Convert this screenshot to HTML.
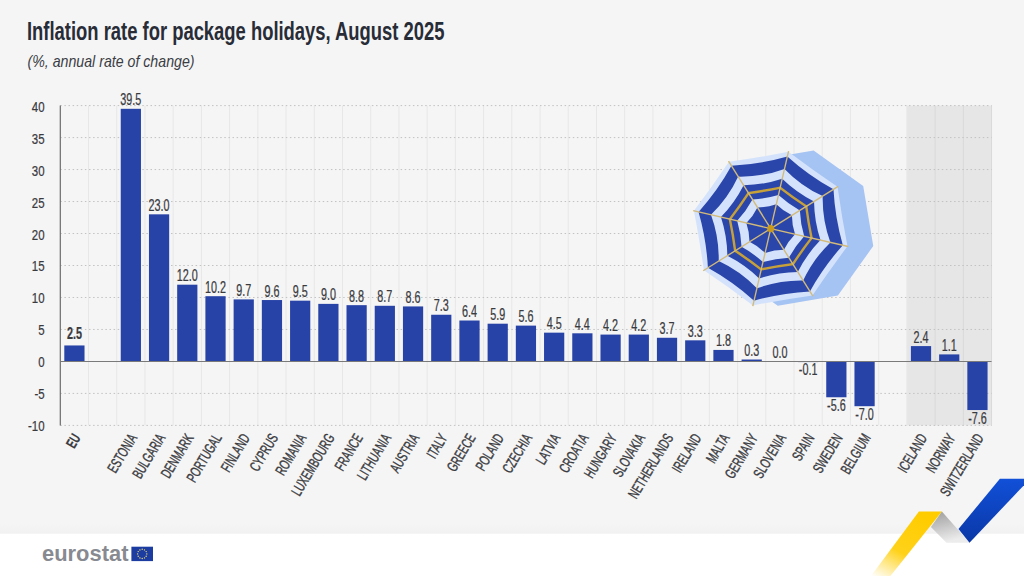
<!DOCTYPE html><html><head><meta charset="utf-8"><style>html,body{margin:0;padding:0;background:#f5f5f5;}body{width:1024px;height:576px;overflow:hidden;position:relative;font-family:"Liberation Sans",sans-serif;}svg{position:absolute;left:0;top:0;}</style></head><body>
<svg width="1024" height="576" viewBox="0 0 1024 576" font-family="Liberation Sans, sans-serif">
<rect x="0" y="0" width="1024" height="576" fill="#f5f5f5"/>
<defs><linearGradient id="gf" x1="0" y1="0" x2="0" y2="1"><stop offset="0" stop-color="#f5f5f5"/><stop offset="1" stop-color="#f1f1f1"/></linearGradient></defs>
<rect x="0" y="524" width="1024" height="10" fill="url(#gf)"/>
<rect x="0" y="533.7" width="1024" height="43" fill="#ffffff"/>
<text x="27" y="40.2" font-size="25" font-weight="bold" fill="#282c37" textLength="417.5" lengthAdjust="spacingAndGlyphs">Inflation rate for package holidays, August 2025</text>
<text x="27.5" y="67.4" font-size="16.2" font-style="italic" fill="#3a3d44" textLength="167" lengthAdjust="spacingAndGlyphs">(%, annual rate of change)</text>
<rect x="906.90" y="105.60" width="84.66" height="319.80" fill="#e6e6e6"/>
<line x1="88.52" y1="105.60" x2="88.52" y2="425.40" stroke="#e7e7e7" stroke-width="1"/>
<line x1="116.74" y1="105.60" x2="116.74" y2="425.40" stroke="#e7e7e7" stroke-width="1"/>
<line x1="144.96" y1="105.60" x2="144.96" y2="425.40" stroke="#e7e7e7" stroke-width="1"/>
<line x1="173.18" y1="105.60" x2="173.18" y2="425.40" stroke="#e7e7e7" stroke-width="1"/>
<line x1="201.40" y1="105.60" x2="201.40" y2="425.40" stroke="#e7e7e7" stroke-width="1"/>
<line x1="229.62" y1="105.60" x2="229.62" y2="425.40" stroke="#e7e7e7" stroke-width="1"/>
<line x1="257.84" y1="105.60" x2="257.84" y2="425.40" stroke="#e7e7e7" stroke-width="1"/>
<line x1="286.06" y1="105.60" x2="286.06" y2="425.40" stroke="#e7e7e7" stroke-width="1"/>
<line x1="314.28" y1="105.60" x2="314.28" y2="425.40" stroke="#e7e7e7" stroke-width="1"/>
<line x1="342.50" y1="105.60" x2="342.50" y2="425.40" stroke="#e7e7e7" stroke-width="1"/>
<line x1="370.72" y1="105.60" x2="370.72" y2="425.40" stroke="#e7e7e7" stroke-width="1"/>
<line x1="398.94" y1="105.60" x2="398.94" y2="425.40" stroke="#e7e7e7" stroke-width="1"/>
<line x1="427.16" y1="105.60" x2="427.16" y2="425.40" stroke="#e7e7e7" stroke-width="1"/>
<line x1="455.38" y1="105.60" x2="455.38" y2="425.40" stroke="#e7e7e7" stroke-width="1"/>
<line x1="483.60" y1="105.60" x2="483.60" y2="425.40" stroke="#e7e7e7" stroke-width="1"/>
<line x1="511.82" y1="105.60" x2="511.82" y2="425.40" stroke="#e7e7e7" stroke-width="1"/>
<line x1="540.04" y1="105.60" x2="540.04" y2="425.40" stroke="#e7e7e7" stroke-width="1"/>
<line x1="568.26" y1="105.60" x2="568.26" y2="425.40" stroke="#e7e7e7" stroke-width="1"/>
<line x1="596.48" y1="105.60" x2="596.48" y2="425.40" stroke="#e7e7e7" stroke-width="1"/>
<line x1="624.70" y1="105.60" x2="624.70" y2="425.40" stroke="#e7e7e7" stroke-width="1"/>
<line x1="652.92" y1="105.60" x2="652.92" y2="425.40" stroke="#e7e7e7" stroke-width="1"/>
<line x1="681.14" y1="105.60" x2="681.14" y2="425.40" stroke="#e7e7e7" stroke-width="1"/>
<line x1="709.36" y1="105.60" x2="709.36" y2="425.40" stroke="#e7e7e7" stroke-width="1"/>
<line x1="737.58" y1="105.60" x2="737.58" y2="425.40" stroke="#e7e7e7" stroke-width="1"/>
<line x1="765.80" y1="105.60" x2="765.80" y2="425.40" stroke="#e7e7e7" stroke-width="1"/>
<line x1="794.02" y1="105.60" x2="794.02" y2="425.40" stroke="#e7e7e7" stroke-width="1"/>
<line x1="822.24" y1="105.60" x2="822.24" y2="425.40" stroke="#e7e7e7" stroke-width="1"/>
<line x1="850.46" y1="105.60" x2="850.46" y2="425.40" stroke="#e7e7e7" stroke-width="1"/>
<line x1="878.68" y1="105.60" x2="878.68" y2="425.40" stroke="#e7e7e7" stroke-width="1"/>
<line x1="906.90" y1="105.60" x2="906.90" y2="425.40" stroke="#e7e7e7" stroke-width="1"/>
<line x1="935.12" y1="105.60" x2="935.12" y2="425.40" stroke="#d9d9d9" stroke-width="1"/>
<line x1="963.34" y1="105.60" x2="963.34" y2="425.40" stroke="#d9d9d9" stroke-width="1"/>
<line x1="991.56" y1="105.60" x2="991.56" y2="425.40" stroke="#d9d9d9" stroke-width="1"/>
<line x1="60.30" y1="425.40" x2="991.56" y2="425.40" stroke="#c2c2c2" stroke-width="1" stroke-dasharray="1.5 2.6"/>
<line x1="60.30" y1="393.42" x2="991.56" y2="393.42" stroke="#c2c2c2" stroke-width="1" stroke-dasharray="1.5 2.6"/>
<line x1="60.30" y1="329.46" x2="991.56" y2="329.46" stroke="#c2c2c2" stroke-width="1" stroke-dasharray="1.5 2.6"/>
<line x1="60.30" y1="297.48" x2="991.56" y2="297.48" stroke="#c2c2c2" stroke-width="1" stroke-dasharray="1.5 2.6"/>
<line x1="60.30" y1="265.50" x2="991.56" y2="265.50" stroke="#c2c2c2" stroke-width="1" stroke-dasharray="1.5 2.6"/>
<line x1="60.30" y1="233.52" x2="991.56" y2="233.52" stroke="#c2c2c2" stroke-width="1" stroke-dasharray="1.5 2.6"/>
<line x1="60.30" y1="201.54" x2="991.56" y2="201.54" stroke="#c2c2c2" stroke-width="1" stroke-dasharray="1.5 2.6"/>
<line x1="60.30" y1="169.56" x2="991.56" y2="169.56" stroke="#c2c2c2" stroke-width="1" stroke-dasharray="1.5 2.6"/>
<line x1="60.30" y1="137.58" x2="991.56" y2="137.58" stroke="#c2c2c2" stroke-width="1" stroke-dasharray="1.5 2.6"/>
<line x1="60.30" y1="105.60" x2="991.56" y2="105.60" stroke="#c2c2c2" stroke-width="1" stroke-dasharray="1.5 2.6"/>
<text x="44.6" y="431.40" font-size="15.5" fill="#3a3b3f" text-anchor="end" stroke="#3a3b3f" stroke-width="0.25" transform="translate(44.6 0) scale(0.74 1) translate(-44.6 0)">-10</text>
<text x="44.6" y="399.42" font-size="15.5" fill="#3a3b3f" text-anchor="end" stroke="#3a3b3f" stroke-width="0.25" transform="translate(44.6 0) scale(0.74 1) translate(-44.6 0)">-5</text>
<text x="44.6" y="367.44" font-size="15.5" fill="#3a3b3f" text-anchor="end" stroke="#3a3b3f" stroke-width="0.25" transform="translate(44.6 0) scale(0.74 1) translate(-44.6 0)">0</text>
<text x="44.6" y="335.46" font-size="15.5" fill="#3a3b3f" text-anchor="end" stroke="#3a3b3f" stroke-width="0.25" transform="translate(44.6 0) scale(0.74 1) translate(-44.6 0)">5</text>
<text x="44.6" y="303.48" font-size="15.5" fill="#3a3b3f" text-anchor="end" stroke="#3a3b3f" stroke-width="0.25" transform="translate(44.6 0) scale(0.74 1) translate(-44.6 0)">10</text>
<text x="44.6" y="271.50" font-size="15.5" fill="#3a3b3f" text-anchor="end" stroke="#3a3b3f" stroke-width="0.25" transform="translate(44.6 0) scale(0.74 1) translate(-44.6 0)">15</text>
<text x="44.6" y="239.52" font-size="15.5" fill="#3a3b3f" text-anchor="end" stroke="#3a3b3f" stroke-width="0.25" transform="translate(44.6 0) scale(0.74 1) translate(-44.6 0)">20</text>
<text x="44.6" y="207.54" font-size="15.5" fill="#3a3b3f" text-anchor="end" stroke="#3a3b3f" stroke-width="0.25" transform="translate(44.6 0) scale(0.74 1) translate(-44.6 0)">25</text>
<text x="44.6" y="175.56" font-size="15.5" fill="#3a3b3f" text-anchor="end" stroke="#3a3b3f" stroke-width="0.25" transform="translate(44.6 0) scale(0.74 1) translate(-44.6 0)">30</text>
<text x="44.6" y="143.58" font-size="15.5" fill="#3a3b3f" text-anchor="end" stroke="#3a3b3f" stroke-width="0.25" transform="translate(44.6 0) scale(0.74 1) translate(-44.6 0)">35</text>
<text x="44.6" y="111.60" font-size="15.5" fill="#3a3b3f" text-anchor="end" stroke="#3a3b3f" stroke-width="0.25" transform="translate(44.6 0) scale(0.74 1) translate(-44.6 0)">40</text>
<rect x="64.30" y="345.45" width="20.22" height="15.99" fill="#2843a7"/>
<text x="74.41" y="338.95" font-size="16" fill="#3a3b3f" stroke="#3a3b3f" stroke-width="0.25" text-anchor="middle" font-weight="bold" transform="translate(74.41 0) scale(0.675 1) translate(-74.41 0)">2.5</text>
<rect x="120.74" y="108.80" width="20.22" height="252.64" fill="#2843a7"/>
<text x="130.85" y="105.30" font-size="16" fill="#3a3b3f" stroke="#3a3b3f" stroke-width="0.25" text-anchor="middle" transform="translate(130.85 0) scale(0.675 1) translate(-130.85 0)">39.5</text>
<rect x="148.96" y="214.33" width="20.22" height="147.11" fill="#2843a7"/>
<text x="159.07" y="210.83" font-size="16" fill="#3a3b3f" stroke="#3a3b3f" stroke-width="0.25" text-anchor="middle" transform="translate(159.07 0) scale(0.675 1) translate(-159.07 0)">23.0</text>
<rect x="177.18" y="284.69" width="20.22" height="76.75" fill="#2843a7"/>
<text x="187.29" y="281.19" font-size="16" fill="#3a3b3f" stroke="#3a3b3f" stroke-width="0.25" text-anchor="middle" transform="translate(187.29 0) scale(0.675 1) translate(-187.29 0)">12.0</text>
<rect x="205.40" y="296.20" width="20.22" height="65.24" fill="#2843a7"/>
<text x="215.51" y="292.70" font-size="16" fill="#3a3b3f" stroke="#3a3b3f" stroke-width="0.25" text-anchor="middle" transform="translate(215.51 0) scale(0.675 1) translate(-215.51 0)">10.2</text>
<rect x="233.62" y="299.40" width="20.22" height="62.04" fill="#2843a7"/>
<text x="243.73" y="295.90" font-size="16" fill="#3a3b3f" stroke="#3a3b3f" stroke-width="0.25" text-anchor="middle" transform="translate(243.73 0) scale(0.675 1) translate(-243.73 0)">9.7</text>
<rect x="261.84" y="300.04" width="20.22" height="61.40" fill="#2843a7"/>
<text x="271.95" y="296.54" font-size="16" fill="#3a3b3f" stroke="#3a3b3f" stroke-width="0.25" text-anchor="middle" transform="translate(271.95 0) scale(0.675 1) translate(-271.95 0)">9.6</text>
<rect x="290.06" y="300.68" width="20.22" height="60.76" fill="#2843a7"/>
<text x="300.17" y="297.18" font-size="16" fill="#3a3b3f" stroke="#3a3b3f" stroke-width="0.25" text-anchor="middle" transform="translate(300.17 0) scale(0.675 1) translate(-300.17 0)">9.5</text>
<rect x="318.28" y="303.88" width="20.22" height="57.56" fill="#2843a7"/>
<text x="328.39" y="300.38" font-size="16" fill="#3a3b3f" stroke="#3a3b3f" stroke-width="0.25" text-anchor="middle" transform="translate(328.39 0) scale(0.675 1) translate(-328.39 0)">9.0</text>
<rect x="346.50" y="305.16" width="20.22" height="56.28" fill="#2843a7"/>
<text x="356.61" y="301.66" font-size="16" fill="#3a3b3f" stroke="#3a3b3f" stroke-width="0.25" text-anchor="middle" transform="translate(356.61 0) scale(0.675 1) translate(-356.61 0)">8.8</text>
<rect x="374.72" y="305.79" width="20.22" height="55.65" fill="#2843a7"/>
<text x="384.83" y="302.29" font-size="16" fill="#3a3b3f" stroke="#3a3b3f" stroke-width="0.25" text-anchor="middle" transform="translate(384.83 0) scale(0.675 1) translate(-384.83 0)">8.7</text>
<rect x="402.94" y="306.43" width="20.22" height="55.01" fill="#2843a7"/>
<text x="413.05" y="302.93" font-size="16" fill="#3a3b3f" stroke="#3a3b3f" stroke-width="0.25" text-anchor="middle" transform="translate(413.05 0) scale(0.675 1) translate(-413.05 0)">8.6</text>
<rect x="431.16" y="314.75" width="20.22" height="46.69" fill="#2843a7"/>
<text x="441.27" y="311.25" font-size="16" fill="#3a3b3f" stroke="#3a3b3f" stroke-width="0.25" text-anchor="middle" transform="translate(441.27 0) scale(0.675 1) translate(-441.27 0)">7.3</text>
<rect x="459.38" y="320.51" width="20.22" height="40.93" fill="#2843a7"/>
<text x="469.49" y="317.01" font-size="16" fill="#3a3b3f" stroke="#3a3b3f" stroke-width="0.25" text-anchor="middle" transform="translate(469.49 0) scale(0.675 1) translate(-469.49 0)">6.4</text>
<rect x="487.60" y="323.70" width="20.22" height="37.74" fill="#2843a7"/>
<text x="497.71" y="320.20" font-size="16" fill="#3a3b3f" stroke="#3a3b3f" stroke-width="0.25" text-anchor="middle" transform="translate(497.71 0) scale(0.675 1) translate(-497.71 0)">5.9</text>
<rect x="515.82" y="325.62" width="20.22" height="35.82" fill="#2843a7"/>
<text x="525.93" y="322.12" font-size="16" fill="#3a3b3f" stroke="#3a3b3f" stroke-width="0.25" text-anchor="middle" transform="translate(525.93 0) scale(0.675 1) translate(-525.93 0)">5.6</text>
<rect x="544.04" y="332.66" width="20.22" height="28.78" fill="#2843a7"/>
<text x="554.15" y="329.16" font-size="16" fill="#3a3b3f" stroke="#3a3b3f" stroke-width="0.25" text-anchor="middle" transform="translate(554.15 0) scale(0.675 1) translate(-554.15 0)">4.5</text>
<rect x="572.26" y="333.30" width="20.22" height="28.14" fill="#2843a7"/>
<text x="582.37" y="329.80" font-size="16" fill="#3a3b3f" stroke="#3a3b3f" stroke-width="0.25" text-anchor="middle" transform="translate(582.37 0) scale(0.675 1) translate(-582.37 0)">4.4</text>
<rect x="600.48" y="334.58" width="20.22" height="26.86" fill="#2843a7"/>
<text x="610.59" y="331.08" font-size="16" fill="#3a3b3f" stroke="#3a3b3f" stroke-width="0.25" text-anchor="middle" transform="translate(610.59 0) scale(0.675 1) translate(-610.59 0)">4.2</text>
<rect x="628.70" y="334.58" width="20.22" height="26.86" fill="#2843a7"/>
<text x="638.81" y="331.08" font-size="16" fill="#3a3b3f" stroke="#3a3b3f" stroke-width="0.25" text-anchor="middle" transform="translate(638.81 0) scale(0.675 1) translate(-638.81 0)">4.2</text>
<rect x="656.92" y="337.77" width="20.22" height="23.67" fill="#2843a7"/>
<text x="667.03" y="334.27" font-size="16" fill="#3a3b3f" stroke="#3a3b3f" stroke-width="0.25" text-anchor="middle" transform="translate(667.03 0) scale(0.675 1) translate(-667.03 0)">3.7</text>
<rect x="685.14" y="340.33" width="20.22" height="21.11" fill="#2843a7"/>
<text x="695.25" y="336.83" font-size="16" fill="#3a3b3f" stroke="#3a3b3f" stroke-width="0.25" text-anchor="middle" transform="translate(695.25 0) scale(0.675 1) translate(-695.25 0)">3.3</text>
<rect x="713.36" y="349.93" width="20.22" height="11.51" fill="#2843a7"/>
<text x="723.47" y="346.43" font-size="16" fill="#3a3b3f" stroke="#3a3b3f" stroke-width="0.25" text-anchor="middle" transform="translate(723.47 0) scale(0.675 1) translate(-723.47 0)">1.8</text>
<rect x="741.58" y="359.52" width="20.22" height="1.92" fill="#2843a7"/>
<text x="751.69" y="356.02" font-size="16" fill="#3a3b3f" stroke="#3a3b3f" stroke-width="0.25" text-anchor="middle" transform="translate(751.69 0) scale(0.675 1) translate(-751.69 0)">0.3</text>
<text x="779.91" y="357.94" font-size="16" fill="#3a3b3f" stroke="#3a3b3f" stroke-width="0.25" text-anchor="middle" transform="translate(779.91 0) scale(0.675 1) translate(-779.91 0)">0.0</text>
<rect x="798.02" y="361.44" width="20.22" height="0.64" fill="#2843a7"/>
<text x="808.13" y="374.68" font-size="16" fill="#3a3b3f" stroke="#3a3b3f" stroke-width="0.25" text-anchor="middle" transform="translate(808.13 0) scale(0.675 1) translate(-808.13 0)">-0.1</text>
<rect x="826.24" y="361.44" width="20.22" height="35.82" fill="#2843a7"/>
<text x="836.35" y="410.86" font-size="16" fill="#3a3b3f" stroke="#3a3b3f" stroke-width="0.25" text-anchor="middle" transform="translate(836.35 0) scale(0.675 1) translate(-836.35 0)">-5.6</text>
<rect x="854.46" y="361.44" width="20.22" height="44.77" fill="#2843a7"/>
<text x="864.57" y="419.81" font-size="16" fill="#3a3b3f" stroke="#3a3b3f" stroke-width="0.25" text-anchor="middle" transform="translate(864.57 0) scale(0.675 1) translate(-864.57 0)">-7.0</text>
<rect x="910.90" y="346.09" width="20.22" height="15.35" fill="#2843a7"/>
<text x="921.01" y="342.59" font-size="16" fill="#3a3b3f" stroke="#3a3b3f" stroke-width="0.25" text-anchor="middle" transform="translate(921.01 0) scale(0.675 1) translate(-921.01 0)">2.4</text>
<rect x="939.12" y="354.40" width="20.22" height="7.04" fill="#2843a7"/>
<text x="949.23" y="350.90" font-size="16" fill="#3a3b3f" stroke="#3a3b3f" stroke-width="0.25" text-anchor="middle" transform="translate(949.23 0) scale(0.675 1) translate(-949.23 0)">1.1</text>
<rect x="967.34" y="361.44" width="20.22" height="48.61" fill="#2843a7"/>
<text x="977.45" y="423.65" font-size="16" fill="#3a3b3f" stroke="#3a3b3f" stroke-width="0.25" text-anchor="middle" transform="translate(977.45 0) scale(0.675 1) translate(-977.45 0)">-7.6</text>
<line x1="60.30" y1="105.60" x2="60.30" y2="425.40" stroke="#6b6b6b" stroke-width="1.2"/>
<line x1="60.30" y1="361.5" x2="991.56" y2="361.5" stroke="#7a7a7a" stroke-width="1"/>
<g transform="translate(81.11 437.60) rotate(-59) scale(0.65 1)"><text x="0" y="0" font-size="15" fill="#3a3b3f" stroke="#3a3b3f" stroke-width="0.2" text-anchor="end" font-weight="bold">EU</text></g>
<g transform="translate(137.55 437.60) rotate(-59) scale(0.65 1)"><text x="0" y="0" font-size="15" fill="#3a3b3f" stroke="#3a3b3f" stroke-width="0.4" text-anchor="end">ESTONIA</text></g>
<g transform="translate(165.77 437.60) rotate(-59) scale(0.65 1)"><text x="0" y="0" font-size="15" fill="#3a3b3f" stroke="#3a3b3f" stroke-width="0.4" text-anchor="end">BULGARIA</text></g>
<g transform="translate(193.99 437.60) rotate(-59) scale(0.65 1)"><text x="0" y="0" font-size="15" fill="#3a3b3f" stroke="#3a3b3f" stroke-width="0.4" text-anchor="end">DENMARK</text></g>
<g transform="translate(222.21 437.60) rotate(-59) scale(0.65 1)"><text x="0" y="0" font-size="15" fill="#3a3b3f" stroke="#3a3b3f" stroke-width="0.4" text-anchor="end">PORTUGAL</text></g>
<g transform="translate(250.43 437.60) rotate(-59) scale(0.65 1)"><text x="0" y="0" font-size="15" fill="#3a3b3f" stroke="#3a3b3f" stroke-width="0.4" text-anchor="end">FINLAND</text></g>
<g transform="translate(278.65 437.60) rotate(-59) scale(0.65 1)"><text x="0" y="0" font-size="15" fill="#3a3b3f" stroke="#3a3b3f" stroke-width="0.4" text-anchor="end">CYPRUS</text></g>
<g transform="translate(306.87 437.60) rotate(-59) scale(0.65 1)"><text x="0" y="0" font-size="15" fill="#3a3b3f" stroke="#3a3b3f" stroke-width="0.4" text-anchor="end">ROMANIA</text></g>
<g transform="translate(335.09 437.60) rotate(-59) scale(0.65 1)"><text x="0" y="0" font-size="15" fill="#3a3b3f" stroke="#3a3b3f" stroke-width="0.4" text-anchor="end">LUXEMBOURG</text></g>
<g transform="translate(363.31 437.60) rotate(-59) scale(0.65 1)"><text x="0" y="0" font-size="15" fill="#3a3b3f" stroke="#3a3b3f" stroke-width="0.4" text-anchor="end">FRANCE</text></g>
<g transform="translate(391.53 437.60) rotate(-59) scale(0.65 1)"><text x="0" y="0" font-size="15" fill="#3a3b3f" stroke="#3a3b3f" stroke-width="0.4" text-anchor="end">LITHUANIA</text></g>
<g transform="translate(419.75 437.60) rotate(-59) scale(0.65 1)"><text x="0" y="0" font-size="15" fill="#3a3b3f" stroke="#3a3b3f" stroke-width="0.4" text-anchor="end">AUSTRIA</text></g>
<g transform="translate(447.97 437.60) rotate(-59) scale(0.65 1)"><text x="0" y="0" font-size="15" fill="#3a3b3f" stroke="#3a3b3f" stroke-width="0.4" text-anchor="end">ITALY</text></g>
<g transform="translate(476.19 437.60) rotate(-59) scale(0.65 1)"><text x="0" y="0" font-size="15" fill="#3a3b3f" stroke="#3a3b3f" stroke-width="0.4" text-anchor="end">GREECE</text></g>
<g transform="translate(504.41 437.60) rotate(-59) scale(0.65 1)"><text x="0" y="0" font-size="15" fill="#3a3b3f" stroke="#3a3b3f" stroke-width="0.4" text-anchor="end">POLAND</text></g>
<g transform="translate(532.63 437.60) rotate(-59) scale(0.65 1)"><text x="0" y="0" font-size="15" fill="#3a3b3f" stroke="#3a3b3f" stroke-width="0.4" text-anchor="end">CZECHIA</text></g>
<g transform="translate(560.85 437.60) rotate(-59) scale(0.65 1)"><text x="0" y="0" font-size="15" fill="#3a3b3f" stroke="#3a3b3f" stroke-width="0.4" text-anchor="end">LATVIA</text></g>
<g transform="translate(589.07 437.60) rotate(-59) scale(0.65 1)"><text x="0" y="0" font-size="15" fill="#3a3b3f" stroke="#3a3b3f" stroke-width="0.4" text-anchor="end">CROATIA</text></g>
<g transform="translate(617.29 437.60) rotate(-59) scale(0.65 1)"><text x="0" y="0" font-size="15" fill="#3a3b3f" stroke="#3a3b3f" stroke-width="0.4" text-anchor="end">HUNGARY</text></g>
<g transform="translate(645.51 437.60) rotate(-59) scale(0.65 1)"><text x="0" y="0" font-size="15" fill="#3a3b3f" stroke="#3a3b3f" stroke-width="0.4" text-anchor="end">SLOVAKIA</text></g>
<g transform="translate(673.73 437.60) rotate(-59) scale(0.65 1)"><text x="0" y="0" font-size="15" fill="#3a3b3f" stroke="#3a3b3f" stroke-width="0.4" text-anchor="end">NETHERLANDS</text></g>
<g transform="translate(701.95 437.60) rotate(-59) scale(0.65 1)"><text x="0" y="0" font-size="15" fill="#3a3b3f" stroke="#3a3b3f" stroke-width="0.4" text-anchor="end">IRELAND</text></g>
<g transform="translate(730.17 437.60) rotate(-59) scale(0.65 1)"><text x="0" y="0" font-size="15" fill="#3a3b3f" stroke="#3a3b3f" stroke-width="0.4" text-anchor="end">MALTA</text></g>
<g transform="translate(758.39 437.60) rotate(-59) scale(0.65 1)"><text x="0" y="0" font-size="15" fill="#3a3b3f" stroke="#3a3b3f" stroke-width="0.4" text-anchor="end">GERMANY</text></g>
<g transform="translate(786.61 437.60) rotate(-59) scale(0.65 1)"><text x="0" y="0" font-size="15" fill="#3a3b3f" stroke="#3a3b3f" stroke-width="0.4" text-anchor="end">SLOVENIA</text></g>
<g transform="translate(814.83 437.60) rotate(-59) scale(0.65 1)"><text x="0" y="0" font-size="15" fill="#3a3b3f" stroke="#3a3b3f" stroke-width="0.4" text-anchor="end">SPAIN</text></g>
<g transform="translate(843.05 437.60) rotate(-59) scale(0.65 1)"><text x="0" y="0" font-size="15" fill="#3a3b3f" stroke="#3a3b3f" stroke-width="0.4" text-anchor="end">SWEDEN</text></g>
<g transform="translate(871.27 437.60) rotate(-59) scale(0.65 1)"><text x="0" y="0" font-size="15" fill="#3a3b3f" stroke="#3a3b3f" stroke-width="0.4" text-anchor="end">BELGIUM</text></g>
<g transform="translate(927.71 437.60) rotate(-59) scale(0.65 1)"><text x="0" y="0" font-size="15" fill="#3a3b3f" stroke="#3a3b3f" stroke-width="0.4" text-anchor="end">ICELAND</text></g>
<g transform="translate(955.93 437.60) rotate(-59) scale(0.65 1)"><text x="0" y="0" font-size="15" fill="#3a3b3f" stroke="#3a3b3f" stroke-width="0.4" text-anchor="end">NORWAY</text></g>
<g transform="translate(984.15 437.60) rotate(-59) scale(0.65 1)"><text x="0" y="0" font-size="15" fill="#3a3b3f" stroke="#3a3b3f" stroke-width="0.4" text-anchor="end">SWITZERLAND</text></g>
<polygon points="813.61,150.54 863.20,185.92 873.26,246.01 837.88,295.60 777.79,305.66 728.20,270.28 718.14,210.19 753.52,160.60" fill="#a5c3f3"/>
<path d="M788.43,151.82 Q812.51,169.98 837.53,186.84 Q841.72,216.72 847.48,246.33 Q829.32,270.41 812.46,295.43 Q782.58,299.62 752.97,305.38 Q728.89,287.22 703.87,270.36 Q699.68,240.48 693.92,210.87 Q712.08,186.79 728.94,161.77 Q758.82,157.58 788.43,151.82Z" fill="#d4e3fb"/>
<path d="M787.35,156.47 Q808.56,175.53 833.48,189.37 Q835.00,217.84 842.83,245.25 Q823.77,266.46 809.93,291.38 Q781.46,292.90 754.05,300.73 Q732.84,281.67 707.92,267.83 Q706.40,239.36 698.57,211.95 Q717.63,190.74 731.47,165.82 Q759.94,164.30 787.35,156.47Z" fill="#2b46ab"/>
<path d="M784.49,168.88 Q801.03,186.08 822.68,196.12 Q822.21,219.98 830.42,242.39 Q813.22,258.93 803.18,280.58 Q779.32,280.11 756.91,288.32 Q740.37,271.12 718.72,261.08 Q719.19,237.22 710.98,214.81 Q728.18,198.27 738.22,176.62 Q762.08,177.09 784.49,168.88Z" fill="#d4e3fb"/>
<path d="M782.20,178.81 Q796.37,192.61 814.04,201.52 Q814.31,221.30 820.49,240.10 Q806.69,254.27 797.78,271.94 Q778.00,272.21 759.20,278.39 Q745.03,264.59 727.36,255.68 Q727.09,235.90 720.91,217.10 Q734.71,202.93 743.62,185.26 Q763.40,184.99 782.20,178.81Z" fill="#2b46ab"/>
<path d="M780.42,186.48 Q793.54,196.58 807.36,205.70 Q809.49,222.11 812.82,238.32 Q802.72,251.44 793.60,265.26 Q777.19,267.39 760.98,270.72 Q747.86,260.62 734.04,251.50 Q731.91,235.09 728.58,218.88 Q738.68,205.76 747.80,191.94 Q764.21,189.81 780.42,186.48Z" fill="#c6a038"/>
<path d="M779.83,189.04 Q792.13,198.55 805.13,207.09 Q807.10,222.51 810.26,237.73 Q800.75,250.03 792.21,263.03 Q776.79,265.00 761.57,268.16 Q749.27,258.65 736.27,250.11 Q734.30,234.69 731.14,219.47 Q740.65,207.17 749.19,194.17 Q764.61,192.20 779.83,189.04Z" fill="#2b46ab"/>
<path d="M778.44,195.09 Q788.22,204.04 799.86,210.38 Q800.46,223.62 804.21,236.34 Q795.26,246.12 788.92,257.76 Q775.68,258.36 762.96,262.11 Q753.18,253.16 741.54,246.82 Q740.94,233.58 737.19,220.86 Q746.14,211.08 752.48,199.44 Q765.72,198.84 778.44,195.09Z" fill="#d4e3fb"/>
<path d="M776.32,204.25 Q783.18,211.10 791.90,215.35 Q791.90,225.05 795.05,234.22 Q788.20,241.08 783.95,249.80 Q774.25,249.80 765.08,252.95 Q758.22,246.10 749.50,241.85 Q749.50,232.15 746.35,222.98 Q753.20,216.12 757.45,207.40 Q767.15,207.40 776.32,204.25Z" fill="#2b46ab"/>
<line x1="770.70" y1="228.60" x2="788.61" y2="151.04" stroke="#d3ba78" stroke-width="1.35"/>
<line x1="770.70" y1="228.60" x2="838.20" y2="186.42" stroke="#d3ba78" stroke-width="1.35"/>
<line x1="770.70" y1="228.60" x2="848.26" y2="246.51" stroke="#d3ba78" stroke-width="1.35"/>
<line x1="770.70" y1="228.60" x2="812.88" y2="296.10" stroke="#d3ba78" stroke-width="1.35"/>
<line x1="770.70" y1="228.60" x2="752.79" y2="306.16" stroke="#d3ba78" stroke-width="1.35"/>
<line x1="770.70" y1="228.60" x2="703.20" y2="270.78" stroke="#d3ba78" stroke-width="1.35"/>
<line x1="770.70" y1="228.60" x2="693.14" y2="210.69" stroke="#d3ba78" stroke-width="1.35"/>
<line x1="770.70" y1="228.60" x2="728.52" y2="161.10" stroke="#d3ba78" stroke-width="1.35"/>
<circle cx="770.7" cy="228.6" r="3.6" fill="#c99a1e"/>
<text x="42" y="561" font-size="22" font-weight="bold" fill="#878a90" textLength="86.5" lengthAdjust="spacingAndGlyphs">eurostat</text>
<rect x="131.4" y="546.7" width="21.6" height="14.4" fill="#1c3ca2"/>
<circle cx="146.80" cy="553.90" r="0.7" fill="#eedc6a"/>
<circle cx="146.18" cy="556.20" r="0.7" fill="#eedc6a"/>
<circle cx="144.50" cy="557.88" r="0.7" fill="#eedc6a"/>
<circle cx="142.20" cy="558.50" r="0.7" fill="#eedc6a"/>
<circle cx="139.90" cy="557.88" r="0.7" fill="#eedc6a"/>
<circle cx="138.22" cy="556.20" r="0.7" fill="#eedc6a"/>
<circle cx="137.60" cy="553.90" r="0.7" fill="#eedc6a"/>
<circle cx="138.22" cy="551.60" r="0.7" fill="#eedc6a"/>
<circle cx="139.90" cy="549.92" r="0.7" fill="#eedc6a"/>
<circle cx="142.20" cy="549.30" r="0.7" fill="#eedc6a"/>
<circle cx="144.50" cy="549.92" r="0.7" fill="#eedc6a"/>
<circle cx="146.18" cy="551.60" r="0.7" fill="#eedc6a"/>
<defs><linearGradient id="gy" x1="0" y1="1" x2="0.6" y2="0"><stop offset="0" stop-color="#ffffff" stop-opacity="0.9"/><stop offset="0.45" stop-color="#ffd21a"/><stop offset="1" stop-color="#ffcc00"/></linearGradient><linearGradient id="gg" x1="0" y1="0" x2="0.3" y2="1"><stop offset="0" stop-color="#9c9c9c"/><stop offset="1" stop-color="#ececec"/></linearGradient><linearGradient id="gb" x1="0" y1="0" x2="0" y2="1"><stop offset="0" stop-color="#1150d8"/><stop offset="1" stop-color="#0a37a6"/></linearGradient></defs>
<polygon points="918.9,511.4 941.9,511.4 890.4,576 871,576" fill="url(#gy)"/>
<polygon points="941.9,511.4 969.5,542.7 946.5,542.7 930.9,527" fill="url(#gg)"/>
<polygon points="958.5,528.9 999.9,478.8 1030,478.8 969.5,542.7" fill="url(#gb)"/>
</svg>
</body></html>
